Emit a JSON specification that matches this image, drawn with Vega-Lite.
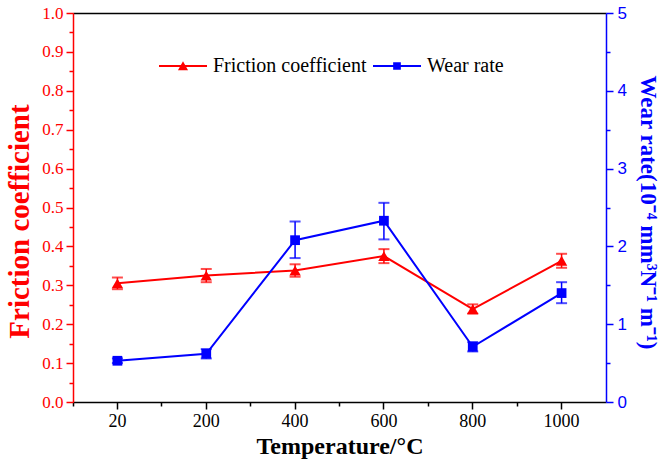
{
  "$schema": "https://vega.github.io/schema/vega-lite/v6.json",
  "width": 533,
  "height": 389,
  "autosize": {"type": "none"},
  "padding": {"left": 73, "top": 13, "right": 56, "bottom": 59},
  "background": "white",
  "config": {
    "view": {"stroke": null},
    "font": "Liberation Serif",
    "axis": {"grid": false, "labelOverlap": false, "labelBound": false},
    "axisLeft": {
      "domainColor": "#ff0000", "domainWidth": 1.5, "tickColor": "#ff0000", "tickWidth": 1.5,
      "labelColor": "#ff0000", "labelFont": "Liberation Serif", "labelFontSize": 17, "labelPadding": 3,
      "titleColor": "#ff0000", "titleFont": "Liberation Serif", "titleFontSize": 29, "titleFontWeight": "bold",
      "titleX": -54, "titleY": 208, "titleBaseline": "middle", "titleAlign": "center", "titleAngle": 270
    },
    "axisRight": {
      "domainColor": "#0000ff", "domainWidth": 1.5, "tickColor": "#0000ff", "tickWidth": 1.5,
      "labelColor": "#0000ff", "labelFont": "Liberation Sans", "labelFontSize": 17, "labelPadding": 4,
      "titleColor": "#0000ff", "titleFont": "Liberation Serif", "titleFontSize": 23, "titleFontWeight": "bold",
      "titleX": 41, "titleY": 199, "titleBaseline": "middle", "titleAlign": "center", "titleAngle": 90
    }
  },
  "datasets": {
    "main": [
      {"temp": 20, "Friction coefficient": 0.305, "friction_low": 0.29, "friction_high": 0.32, "Wear rate": 0.53, "wear_low": 0.5, "wear_high": 0.56},
      {"temp": 200, "Friction coefficient": 0.325, "friction_low": 0.308, "friction_high": 0.342, "Wear rate": 0.62, "wear_low": 0.56, "wear_high": 0.68},
      {"temp": 400, "Friction coefficient": 0.338, "friction_low": 0.322, "friction_high": 0.354, "Wear rate": 2.08, "wear_low": 1.85, "wear_high": 2.32},
      {"temp": 600, "Friction coefficient": 0.375, "friction_low": 0.357, "friction_high": 0.393, "Wear rate": 2.33, "wear_low": 2.09, "wear_high": 2.56},
      {"temp": 800, "Friction coefficient": 0.239, "friction_low": 0.227, "friction_high": 0.251, "Wear rate": 0.71, "wear_low": 0.65, "wear_high": 0.77},
      {"temp": 1000, "Friction coefficient": 0.363, "friction_low": 0.345, "friction_high": 0.381, "Wear rate": 1.4, "wear_low": 1.27, "wear_high": 1.54}
    ]
  },
  "data": {"name": "main"},
  "layer": [
    {
      "encoding": {
        "x": {
          "field": "temp", "type": "ordinal",
          "scale": {"type": "band", "paddingInner": 0, "paddingOuter": 0},
          "axis": {
            "orient": "bottom", "labelAngle": 0,
            "domainColor": "black", "domainWidth": 1.5,
            "tickColor": "black", "tickWidth": 1.5, "tickSize": 7,
            "labelFont": "Liberation Serif", "labelFontSize": 18, "labelColor": "black", "labelPadding": 3,
            "title": "Temperature/°C", "titleFont": "Liberation Serif", "titleFontSize": 24, "titleFontWeight": "bold",
            "titleColor": "black", "titleY": 51, "titleBaseline": "alphabetic"
          }
        }
      },
      "layer": [
        {
          "mark": {"type": "rule", "color": "#ff0000", "strokeWidth": 1.5},
          "encoding": {
            "y": {
              "field": "friction_low", "type": "quantitative", "scale": {"domain": [0, 1], "nice": false, "zero": false},
              "title": "Friction coefficient",
              "axis": {
                "orient": "left",
                "values": [0, 0.05, 0.1, 0.15, 0.2, 0.25, 0.3, 0.35, 0.4, 0.45, 0.5, 0.55, 0.6, 0.65, 0.7, 0.75, 0.8, 0.85, 0.9, 0.95, 1.0],
                "labelExpr": "round(datum.value*20)%2==0 ? format(datum.value,'.1f') : ''",
                "labelOverlap": false,
                "tickSize": {"condition": {"test": "round(datum.value*20)%2==0", "value": 7}, "value": 4}
              }
            },
            "y2": {"field": "friction_high"}
          }
        },
        {
          "mark": {"type": "tick", "color": "#ff0000", "thickness": 2, "size": 11},
          "encoding": {"y": {"field": "friction_low", "type": "quantitative", "title": "Friction coefficient",
            "axis": {
              "orient": "left",
              "values": [0, 0.05, 0.1, 0.15, 0.2, 0.25, 0.3, 0.35, 0.4, 0.45, 0.5, 0.55, 0.6, 0.65, 0.7, 0.75, 0.8, 0.85, 0.9, 0.95, 1.0],
              "labelExpr": "round(datum.value*20)%2==0 ? format(datum.value,'.1f') : ''",
              "labelOverlap": false,
              "tickSize": {"condition": {"test": "round(datum.value*20)%2==0", "value": 7}, "value": 4}
            }}}
        },
        {
          "mark": {"type": "tick", "color": "#ff0000", "thickness": 2, "size": 11},
          "encoding": {"y": {"field": "friction_high", "type": "quantitative", "title": "Friction coefficient",
            "axis": {
              "orient": "left",
              "values": [0, 0.05, 0.1, 0.15, 0.2, 0.25, 0.3, 0.35, 0.4, 0.45, 0.5, 0.55, 0.6, 0.65, 0.7, 0.75, 0.8, 0.85, 0.9, 0.95, 1.0],
              "labelExpr": "round(datum.value*20)%2==0 ? format(datum.value,'.1f') : ''",
              "labelOverlap": false,
              "tickSize": {"condition": {"test": "round(datum.value*20)%2==0", "value": 7}, "value": 4}
            }}}
        },
        {
          "mark": {"type": "line", "color": "#ff0000", "strokeWidth": 2},
          "encoding": {"y": {"field": "Friction coefficient", "type": "quantitative", "title": "Friction coefficient",
            "axis": {
              "orient": "left",
              "values": [0, 0.05, 0.1, 0.15, 0.2, 0.25, 0.3, 0.35, 0.4, 0.45, 0.5, 0.55, 0.6, 0.65, 0.7, 0.75, 0.8, 0.85, 0.9, 0.95, 1.0],
              "labelExpr": "round(datum.value*20)%2==0 ? format(datum.value,'.1f') : ''",
              "labelOverlap": false,
              "tickSize": {"condition": {"test": "round(datum.value*20)%2==0", "value": 7}, "value": 4}
            }}}
        },
        {
          "mark": {"type": "point", "shape": "triangle-up", "filled": true, "color": "#ff0000", "size": 130, "opacity": 1},
          "encoding": {"y": {"field": "Friction coefficient", "type": "quantitative", "title": "Friction coefficient",
            "axis": {
              "orient": "left",
              "values": [0, 0.05, 0.1, 0.15, 0.2, 0.25, 0.3, 0.35, 0.4, 0.45, 0.5, 0.55, 0.6, 0.65, 0.7, 0.75, 0.8, 0.85, 0.9, 0.95, 1.0],
              "labelExpr": "round(datum.value*20)%2==0 ? format(datum.value,'.1f') : ''",
              "labelOverlap": false,
              "tickSize": {"condition": {"test": "round(datum.value*20)%2==0", "value": 7}, "value": 4}
            }}}
        }
      ]
    },
    {
      "encoding": {
        "x": {
          "field": "temp", "type": "ordinal",
          "scale": {"type": "band", "paddingInner": 0, "paddingOuter": 0},
          "axis": {
            "orient": "bottom", "bandPosition": 0, "labels": false, "domain": false, "title": null,
            "tickColor": "black", "tickWidth": 1.5, "tickSize": 4
          }
        }
      },
      "layer": [
        {
          "mark": {"type": "rule", "color": "#0000ff", "strokeWidth": 1.5},
          "encoding": {
            "y": {
              "field": "wear_low", "type": "quantitative", "scale": {"domain": [0, 5], "nice": false, "zero": false},
              "title": "Wear rate(10⁻⁴ mm³N⁻¹ m⁻¹)",
              "axis": {
                "orient": "right",
                "values": [0, 0.5, 1, 1.5, 2, 2.5, 3, 3.5, 4, 4.5, 5],
                "labelExpr": "datum.value%1==0 ? format(datum.value,'d') : ''",
                "labelOverlap": false,
                "tickSize": {"condition": {"test": "datum.value%1==0", "value": 7}, "value": 4}
              }
            },
            "y2": {"field": "wear_high"}
          }
        },
        {
          "mark": {"type": "tick", "color": "#0000ff", "thickness": 2, "size": 11},
          "encoding": {"y": {"field": "wear_low", "type": "quantitative", "title": "Wear rate(10⁻⁴ mm³N⁻¹ m⁻¹)",
            "axis": {
              "orient": "right",
              "values": [0, 0.5, 1, 1.5, 2, 2.5, 3, 3.5, 4, 4.5, 5],
              "labelExpr": "datum.value%1==0 ? format(datum.value,'d') : ''",
              "labelOverlap": false,
              "tickSize": {"condition": {"test": "datum.value%1==0", "value": 7}, "value": 4}
            }}}
        },
        {
          "mark": {"type": "tick", "color": "#0000ff", "thickness": 2, "size": 11},
          "encoding": {"y": {"field": "wear_high", "type": "quantitative", "title": "Wear rate(10⁻⁴ mm³N⁻¹ m⁻¹)",
            "axis": {
              "orient": "right",
              "values": [0, 0.5, 1, 1.5, 2, 2.5, 3, 3.5, 4, 4.5, 5],
              "labelExpr": "datum.value%1==0 ? format(datum.value,'d') : ''",
              "labelOverlap": false,
              "tickSize": {"condition": {"test": "datum.value%1==0", "value": 7}, "value": 4}
            }}}
        },
        {
          "mark": {"type": "line", "color": "#0000ff", "strokeWidth": 2},
          "encoding": {"y": {"field": "Wear rate", "type": "quantitative", "title": "Wear rate(10⁻⁴ mm³N⁻¹ m⁻¹)",
            "axis": {
              "orient": "right",
              "values": [0, 0.5, 1, 1.5, 2, 2.5, 3, 3.5, 4, 4.5, 5],
              "labelExpr": "datum.value%1==0 ? format(datum.value,'d') : ''",
              "labelOverlap": false,
              "tickSize": {"condition": {"test": "datum.value%1==0", "value": 7}, "value": 4}
            }}}
        },
        {
          "mark": {"type": "point", "shape": "square", "filled": true, "color": "#0000ff", "size": 95, "opacity": 1},
          "encoding": {"y": {"field": "Wear rate", "type": "quantitative", "title": "Wear rate(10⁻⁴ mm³N⁻¹ m⁻¹)",
            "axis": {
              "orient": "right",
              "values": [0, 0.5, 1, 1.5, 2, 2.5, 3, 3.5, 4, 4.5, 5],
              "labelExpr": "datum.value%1==0 ? format(datum.value,'d') : ''",
              "labelOverlap": false,
              "tickSize": {"condition": {"test": "datum.value%1==0", "value": 7}, "value": 4}
            }}}
        }
      ]
    },
    {
      "transform": [{"fold": ["Friction coefficient", "Wear rate"], "as": ["series", "val"]}],
      "mark": {"type": "point", "opacity": 0, "filled": true},
      "encoding": {
        "x": {
          "field": "temp", "type": "ordinal",
          "scale": {"type": "band", "paddingInner": 0, "paddingOuter": 0},
          "axis": {"orient": "top", "labels": false, "ticks": false, "title": null, "domainColor": "black", "domainWidth": 1.5}
        },
        "color": {
          "field": "series", "type": "nominal",
          "scale": {"domain": ["Friction coefficient", "Wear rate"], "range": ["#ff0000", "#0000ff"]},
          "legend": {
            "orient": "none", "legendX": 86, "legendY": 29, "direction": "horizontal", "title": null,
            "labelFont": "Liberation Serif", "labelFontSize": 20, "labelColor": "black",
            "symbolSize": 2304, "symbolStrokeWidth": 0, "symbolOpacity": 1, "labelOffset": 6, "columnPadding": 6, "padding": 0,
            "encode": {"symbols": {"update": {"opacity": {"value": 1}}}}
          }
        },
        "shape": {
          "field": "series", "type": "nominal",
          "scale": {"domain": ["Friction coefficient", "Wear rate"], "range": ["M-1,-0.045H1V0.045H-1Z M-0.21,0.18L0,-0.2L0.21,0.18Z", "M-1,-0.045H1V0.045H-1Z M-0.16,-0.16H0.16V0.16H-0.16Z"]},
          "legend": {
            "orient": "none", "legendX": 86, "legendY": 29, "direction": "horizontal", "title": null,
            "labelFont": "Liberation Serif", "labelFontSize": 20, "labelColor": "black",
            "symbolSize": 2304, "symbolStrokeWidth": 0, "symbolOpacity": 1, "labelOffset": 6, "columnPadding": 6, "padding": 0,
            "encode": {"symbols": {"update": {"opacity": {"value": 1}}}}
          }
        }
      }
    }
  ],
  "resolve": {"scale": {"y": "independent"}, "axis": {"x": "independent"}}
}
